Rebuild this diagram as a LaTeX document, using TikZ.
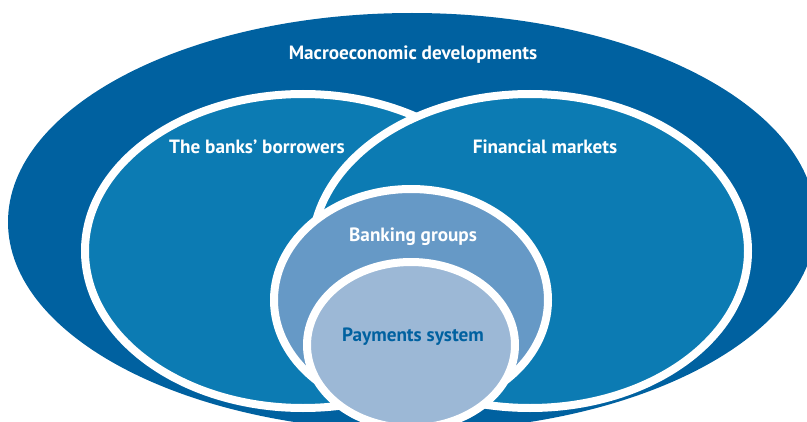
\documentclass[tikz,border=0pt]{standalone}
\usepackage{fontspec}
\setmainfont{PT Sans}
\definecolor{macroblue}{HTML}{0061A0}
\definecolor{midblue}{HTML}{0C7BB3}
\definecolor{bankblue}{HTML}{6699C6}
\definecolor{payblue}{HTML}{9CB8D6}
\tikzset{
  ring/.style={draw=white, line width=0.24cm},
  lbl/.style={text=white, font=\bfseries\fontsize{16.4}{19}\selectfont, inner sep=0pt},
}
\begin{document}
\begin{tikzpicture}[x=0.03cm,y=-0.03cm]
\useasboundingbox (0,0) rectangle (807,422);
\clip (0,0) rectangle (807,422);

\fill [macroblue] (412,222) ellipse [x radius=404, y radius=209];
\filldraw [ring,fill=midblue] (303,251) ellipse [x radius=218, y radius=157];
\filldraw [ring,fill=midblue] (530,251) ellipse [x radius=218, y radius=157];
\filldraw [ring,fill=bankblue] (411,300) ellipse [x radius=137, y radius=111];
\filldraw [ring,fill=payblue] (411,345) ellipse [x radius=104, y radius=83];

\node [lbl] (macro) at (413,55) {Macroeconomic developments};
\node [lbl] (borrowers) at (257,147) {The banks’ borrowers};
\node [lbl] (markets) at (545,147) {Financial markets};
\node [lbl] (banking) at (413,237) {Banking groups};
\node [lbl,text=macroblue] (payments) at (413,337) {Payments system};
\end{tikzpicture}
\end{document}
